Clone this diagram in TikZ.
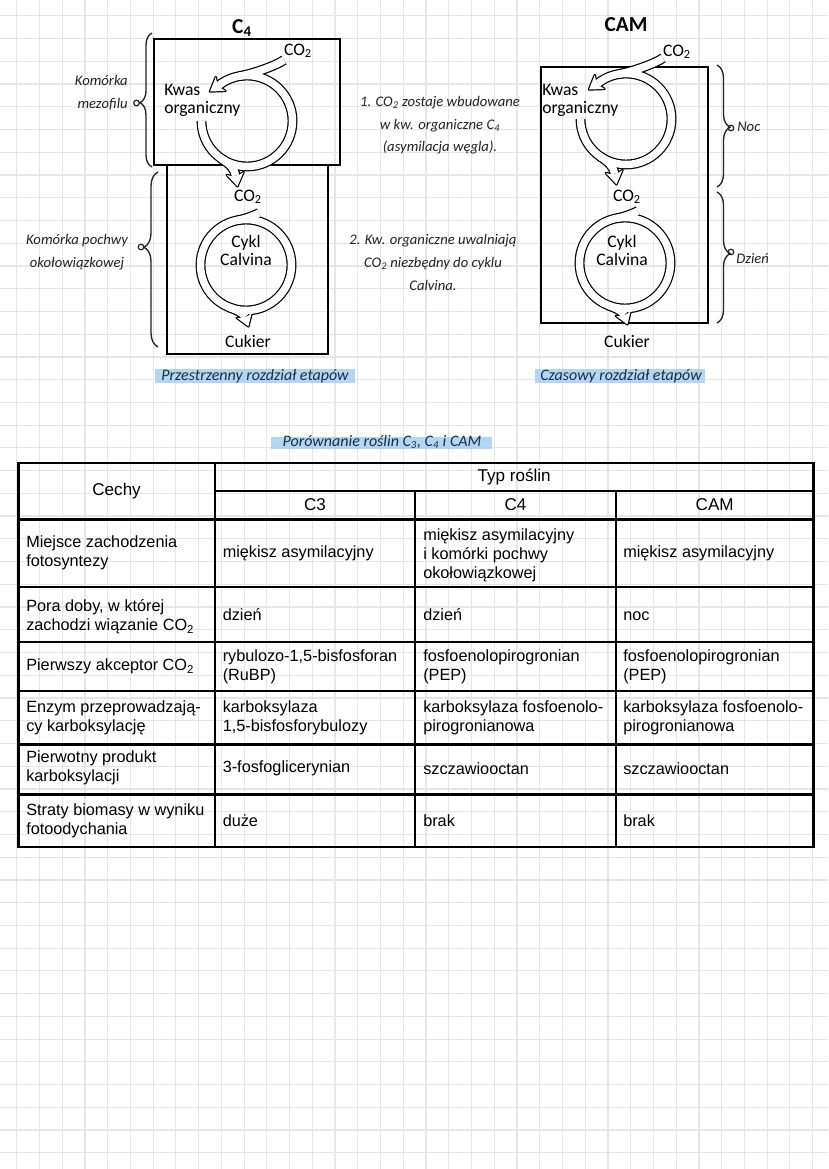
\documentclass[tikz,border=0pt]{standalone}
\usepackage{fontspec}
\setmainfont{Liberation Sans}
\newfontfamily\labelfont{Carlito}
\usepackage{tikz}
\usetikzlibrary{decorations.pathreplacing}

\definecolor{gridgray}{RGB}{230,230,230}
\definecolor{marker}{RGB}{160,205,240}
\definecolor{ink}{RGB}{35,35,35}
\definecolor{navy}{RGB}{30,40,75}

\tikzset{
  bandout/.style={draw=black, line width=7.4pt},
  bandin/.style={draw=white, line width=5.6pt},
  tipout/.style={fill=black, draw=black, line width=1.8pt, line join=round},
  tipin/.style={fill=white},
  lbl/.style={font=\labelfont\fontsize{13.2}{13.5}\selectfont, inner sep=0pt, align=left},
  hand/.style={font=\labelfont\itshape\fontsize{11}{17}\selectfont, text=ink, inner sep=0pt},
  handhead/.style={font=\labelfont\itshape\fontsize{12}{14}\selectfont, text=navy, inner sep=0pt},
  handbrace/.style={draw=ink, line width=1pt, decorate},
  cell/.style={anchor=west, align=left, inner sep=0pt, font=\fontsize{12.2}{14.4}\selectfont},
  head/.style={inner sep=0pt, font=\fontsize{12.8}{15}\selectfont},
  tabline/.style={line width=1.8pt, line cap=rect},
}

% hollow band arrows of one cycle pair (C4 coordinates), #1 band style, #2 tip style
\newcommand{\cyclebands}[2]{%
  % upper cycle
  \draw[#1] (201.5,121) arc[start angle=180, end angle=-128, radius=45.5];
  \draw[#1] (284,60) .. controls (275.8,65.7) and (252.9,73.8) .. (239.1,76.2);
  \draw[#1] (220.9,158.3) .. controls (229.1,164) and (234.1,167.6) .. (235.5,175.5);
  % Calvin cycle
  \draw[#1] (246,265) circle[radius=45.5];
  \draw[#1] (259,213) .. controls (255,215) and (246,218.8) .. (238.1,220.2);
  \draw[#1] (229,307.2) .. controls (236.4,310.2) and (242.9,312.5) .. (245,317);
  % tips
  \path[#2, shift={(219,85.15)}, rotate=145] (11,0) -- (-2,8.5) -- (0,3.73) -- (0,-3.73) -- (-2,-8.5) -- cycle;
  \path[#2, shift={(235.5,175.5)}, rotate=80] (11,0) -- (-2,8.5) -- (0,3.73) -- (0,-3.73) -- (-2,-8.5) -- cycle;
  \path[#2, shift={(245,317)}, rotate=70] (10,0) -- (-2,8) -- (0,3.73) -- (0,-3.73) -- (-2,-8) -- cycle;
}

\begin{document}
\begin{tikzpicture}[x=0.75pt,y=0.75pt,yscale=-1,xscale=1]
\useasboundingbox (0,0) rectangle (828,1169);
\fill[white] (0,0) rectangle (828,1169);
%Grid
\draw[gridgray, line width=0.9pt, step=22.74, shift={(16.7,15.8)}] (-16.7,-15.8) grid (811.3,1153.2);

%Shape: Rectangle [mezofil, pochwa, CAM]
\draw[line width=1.1pt] (154,39) rectangle (340,165);
\draw[line width=1.1pt] (167,165) rectangle (328,354);
\draw[line width=1.1pt] (541,67) rectangle (708,323);

%Curve Lines: cycles
\cyclebands{bandout}{tipout}
\cyclebands{bandin}{tipin}
\begin{scope}[shift={(379,-2)}]
\cyclebands{bandout}{tipout}
\cyclebands{bandin}{tipin}
\end{scope}

%Text: C4
\node[font=\labelfont\bfseries\fontsize{16}{18}\selectfont, inner sep=0pt] (titleC4) at (242,28) {C\textsubscript{4}};
\node[lbl] (co2inC4) at (298,51) {CO\textsubscript{2}};
\node[lbl, anchor=west] (kwasC4) at (164,100.5) {Kwas\\organiczny};
\node[lbl] (co2outC4) at (248,197) {CO\textsubscript{2}};
\node[lbl, align=center] (calvinC4) at (246,250) {Cykl\\Calvina};
\node[lbl] (cukierC4) at (248,341) {Cukier};
%Text: CAM
\node[font=\labelfont\bfseries\fontsize{16}{18}\selectfont, inner sep=0pt] (titleCAM) at (626,25) {CAM};
\node[lbl] (co2inCAM) at (677,52) {CO\textsubscript{2}};
\node[lbl, anchor=west] (kwasCAM) at (542,100) {Kwas\\organiczny};
\node[lbl] (co2outCAM) at (627,197) {CO\textsubscript{2}};
\node[lbl, align=center] (calvinCAM) at (622,250) {Cykl\\Calvina};
\node[lbl] (cukierCAM) at (627,341) {Cukier};

%Braces
\draw[handbrace, decoration={brace, amplitude=9pt, aspect=0.48}] (152,167) -- (152,33);
\draw[handbrace, decoration={brace, amplitude=10.5pt, aspect=0.57}] (158,347) -- (158,172);
\draw[handbrace, decoration={brace, amplitude=9.75pt, aspect=0.51}] (717,65) -- (717,187);
\draw[handbrace, decoration={brace, amplitude=9.75pt, aspect=0.47}] (717,192) -- (717,323);
\draw[ink, line width=0.9pt] (136.5,103) circle[radius=2.8];
\draw[ink, line width=0.9pt] (141,247) circle[radius=2.8];
\draw[ink, line width=0.9pt] (731,128) circle[radius=2.8];
\draw[ink, line width=0.9pt] (731,252) circle[radius=2.8];

%Text: handwritten notes
\node[hand, anchor=east, align=right] (mezofil) at (128,93) {Komórka\\mezofilu};
\node[hand, align=center] (pochwa) at (77,252) {Komórka pochwy\\okołowiązkowej};
\node[hand, anchor=west] (noc) at (737,127) {Noc};
\node[hand, anchor=west] (dzien) at (736,259) {Dzień};
\node[hand, align=center] (note1) at (440,125.5) {1. CO\textsubscript{2} zostaje wbudowane\\w kw. organiczne C\textsubscript{4}\\(asymilacja węgla).};
\node[hand, align=center] (note2) at (433,262.5) {2. Kw. organiczne uwalniają\\CO\textsubscript{2} niezbędny do cyklu\\Calvina.};

%Highlighted headings
\fill[marker, fill opacity=0.8] (155,369) rectangle (355,383);
\fill[marker, fill opacity=0.8] (535,369) rectangle (705,383);
\fill[marker, fill opacity=0.8] (271,437) rectangle (492,449);
\node[handhead] (splitC4) at (255,376) {Przestrzenny rozdział etapów};
\node[handhead] (splitCAM) at (621,376) {Czasowy rozdział etapów};
\node[handhead] (porown) at (382,442) {Porównanie roślin C\textsubscript{3}, C\textsubscript{4} i CAM};

%Table lines
\draw[tabline] (18.3,462.7) rectangle (813.3,846.7);
\draw[tabline] (215,462.7) -- (215,846.7);
\draw[tabline] (415,490.7) -- (415,846.7);
\draw[tabline] (616,490.7) -- (616,846.7);
\draw[tabline] (215,490.7) -- (813.3,490.7);
\draw[tabline] (18.3,519.3) -- (813.3,519.3);
\draw[tabline] (18.3,586.7) -- (813.3,586.7);
\draw[tabline] (18.3,641.7) -- (813.3,641.7);
\draw[tabline] (18.3,691) -- (813.3,691);
\draw[tabline] (18.3,744.3) -- (813.3,744.3);
\draw[tabline] (18.3,794.3) -- (813.3,794.3);

%Table header
\node[head] (cechy) at (116.6,491) {Cechy};
\node[head] (typ) at (514.2,476.7) {Typ roślin};
\node[head] (hC3) at (315,505) {C3};
\node[head] (hC4) at (515.5,505) {C4};
\node[head] (hCAM) at (714.7,505) {CAM};

%Table cells
\node[cell] (r1a) at (26,553) {Miejsce zachodzenia\\fotosyntezy};
\node[cell] (r1b) at (222.5,553) {miękisz asymilacyjny};
\node[cell] (r1c) at (423,555) {miękisz asymilacyjny\\i komórki pochwy\\okołowiązkowej};
\node[cell] (r1d) at (623,553) {miękisz asymilacyjny};

\node[cell] (r2a) at (26,617) {Pora doby, w której\\zachodzi wiązanie CO\textsubscript{2}};
\node[cell] (r2b) at (222.5,615) {dzień};
\node[cell] (r2c) at (423,615) {dzień};
\node[cell] (r2d) at (623,616) {noc};

\node[cell] (r3a) at (26,666.5) {Pierwszy akceptor CO\textsubscript{2}};
\node[cell] (r3b) at (222.5,666.5) {rybulozo-1,5-bisfosforan\\(RuBP)};
\node[cell] (r3c) at (423,666.5) {fosfoenolopirogronian\\(PEP)};
\node[cell] (r3d) at (623,666.5) {fosfoenolopirogronian\\(PEP)};

\node[cell] (r4a) at (26,718) {Enzym przeprowadzają-\\cy karboksylację};
\node[cell] (r4b) at (222.5,718) {karboksylaza\\1,5-bisfosforybulozy};
\node[cell] (r4c) at (423,718) {karboksylaza fosfoenolo-\\pirogronianowa};
\node[cell] (r4d) at (623,718) {karboksylaza fosfoenolo-\\pirogronianowa};

\node[cell] (r5a) at (26,768) {Pierwotny produkt\\karboksylacji};
\node[cell] (r5b) at (222.5,768.3) {3-fosfoglicerynian};
\node[cell] (r5c) at (423,768.3) {szczawiooctan};
\node[cell] (r5d) at (623,768.3) {szczawiooctan};

\node[cell] (r6a) at (26,821) {Straty biomasy w wyniku\\fotoodychania};
\node[cell] (r6b) at (222.5,820.7) {duże};
\node[cell] (r6c) at (423,820.7) {brak};
\node[cell] (r6d) at (623,820.7) {brak};

\end{tikzpicture}
\end{document}
